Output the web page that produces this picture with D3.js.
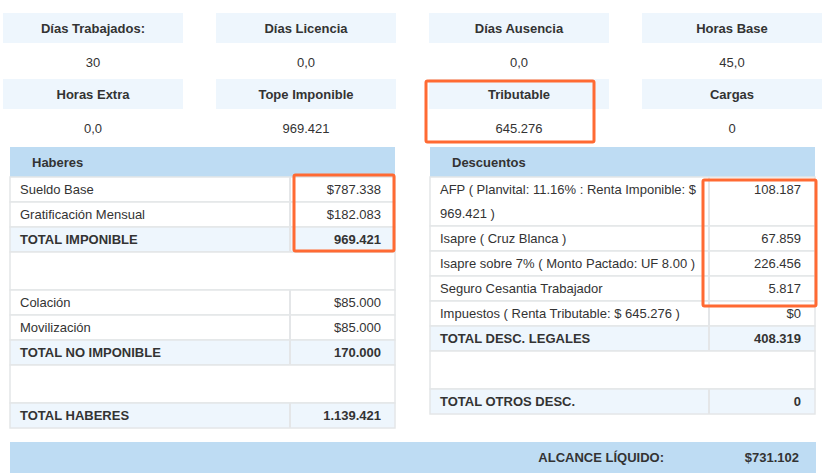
<!DOCTYPE html>
<html><head><meta charset="utf-8">
<script src="https://cdn.jsdelivr.net/npm/d3@7"></script>
<style>body{margin:0;background:#fff}svg{display:block;font-family:"Liberation Sans",Arial,sans-serif}</style>
</head><body><svg id="c" width="824" height="473"></svg>
<script>
const infoLabels=["Días Trabajados:","Días Licencia","Días Ausencia","Horas Base","Horas Extra","Tope Imponible","Tributable","Cargas"];
const infoValues=["30","0,0","0,0","45,0","0,0","969.421","645.276","0"];
const haberesLabels=["Sueldo Base","Gratificación Mensual","TOTAL IMPONIBLE","","Colación","Movilización","TOTAL NO IMPONIBLE","","TOTAL HABERES"];
const haberesValues=["$787.338","$182.083","969.421","","$85.000","$85.000","170.000","","1.139.421"];
const descLabels=[["AFP ( Planvital: 11.16% : Renta Imponible: $","969.421 )"],["Isapre ( Cruz Blanca )"],["Isapre sobre 7% ( Monto Pactado: UF 8.00 )"],["Seguro Cesantia Trabajador"],["Impuestos ( Renta Tributable: $ 645.276 )"],["TOTAL DESC. LEGALES"],[""],["TOTAL OTROS DESC."]];
const descValues=["108.187","67.859","226.456","5.817","$0","408.319","","0"];
const liquidoLabel="ALCANCE LÍQUIDO:", liquidoValue="$731.102";

const svg=d3.select("#c");
const txt="#333", light="#eef6fd", head="#bedcf3", line="#e4e6e8", orange="#ff6a33";
// info grid
const colX=d3.scaleBand().domain(d3.range(4)).range([3,822]).paddingInner(0.155);
infoLabels.forEach((l,i)=>{
  const c=i%4,r=Math.floor(i/4),x=colX(c),w=colX.bandwidth(),y=13+r*66;
  svg.append("rect").attr("x",x).attr("y",y).attr("width",w).attr("height",30).attr("fill",light);
  svg.append("text").attr("x",x+w/2).attr("y",y+20).attr("text-anchor","middle").attr("font-size",13).attr("font-weight","bold").attr("fill",txt).text(l);
  svg.append("text").attr("x",x+w/2).attr("y",y+54).attr("text-anchor","middle").attr("font-size",13).attr("fill",txt).text(infoValues[i]);
});
function isTotal(l){return /^TOTAL/.test(l);}
function table(x0,x1,div,title,labels,values,heights){
  svg.append("rect").attr("x",x0).attr("y",147).attr("width",x1-x0).attr("height",30).attr("fill",head);
  svg.append("text").attr("x",x0+22).attr("y",167).attr("font-size",13).attr("font-weight","bold").attr("fill",txt).text(title);
  let y=177;
  labels.forEach((lab,i)=>{
    const h=heights[i], L=Array.isArray(lab)?lab:[lab], t=isTotal(L[0]);
    svg.append("rect").attr("x",x0).attr("y",y).attr("width",x1-x0).attr("height",h).attr("fill",t?light:"#fff").attr("stroke",line).attr("stroke-width",1.5);
    if(L[0]!==""||values[i]!=="") svg.append("line").attr("x1",div).attr("x2",div).attr("y1",y).attr("y2",y+h).attr("stroke",line).attr("stroke-width",2);
    L.forEach((s,k)=>svg.append("text").attr("x",x0+10).attr("y",y+17+k*24).attr("font-size",13).attr("font-weight",t?"bold":"normal").attr("fill",txt).text(s));
    svg.append("text").attr("x",x1-14).attr("y",y+17).attr("text-anchor","end").attr("font-size",13).attr("font-weight",t?"bold":"normal").attr("fill",txt).text(values[i]);
    y+=h;
  });
}
table(10,395,290,"Haberes",haberesLabels,haberesValues,[25,25,25,38,25,25,25,38,25]);
table(430,815,709,"Descuentos",descLabels,descValues,[49,25,25,25,25,25,38,25]);
// liquido
svg.append("rect").attr("x",10).attr("y",442).attr("width",806).attr("height",31).attr("fill",head);
svg.append("text").attr("x",664).attr("y",462).attr("text-anchor","end").attr("font-size",13).attr("font-weight","bold").attr("fill",txt).text(liquidoLabel);
svg.append("text").attr("x",799).attr("y",462).attr("text-anchor","end").attr("font-size",13).attr("font-weight","bold").attr("fill",txt).text(liquidoValue);
// highlight boxes
[[426,81,168,61],[294,175,100,76],[703,180,113,126]].forEach(b=>svg.append("rect").attr("x",b[0]).attr("y",b[1]).attr("width",b[2]).attr("height",b[3]).attr("fill","none").attr("stroke",orange).attr("stroke-width",3).attr("rx",1.5));
</script></body></html>
